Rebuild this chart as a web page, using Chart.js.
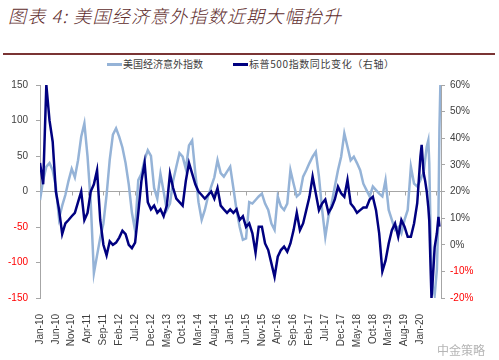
<!DOCTYPE html>
<html>
<head>
<meta charset="utf-8">
<script src="https://cdn.jsdelivr.net/npm/chart.js@4.4.1/dist/chart.umd.min.js"></script>
<style>
  html, body { margin:0; padding:0; background:#fff; }
  #wrap { position:relative; width:499px; height:360px; overflow:hidden; }
  #c { position:absolute; left:0; top:0; }
  .title { position:absolute; left:8px; top:4px; font:italic 300 18px "Noto Sans CJK SC", sans-serif; color:#5e2c2c; line-height:22px; letter-spacing:1.2px; white-space:nowrap; }
  .rule { position:absolute; left:3px; top:53px; width:492px; height:2px; background:#7a3434; }
  .lg { position:absolute; top:58px; font:10px "Noto Sans CJK SC", sans-serif; color:#404040; line-height:12px; white-space:nowrap; }
  .sw { position:absolute; }
  .mark { position:absolute; left:437px; top:341px; font:12px "Noto Sans CJK SC", sans-serif; color:#b5b5b5; }
</style>
</head>
<body>
<div id="wrap">
  <div class="title">图表 4: 美国经济意外指数近期大幅抬升</div>
  <div class="rule"></div>
  <div class="sw" style="left:107px;top:63px;width:15px;height:2.5px;background:#95b3d7;"></div>
  <div class="lg" style="left:123px;">美国经济意外指数</div>
  <div class="sw" style="left:233px;top:62.5px;width:15px;height:3px;background:#000080;"></div>
  <div class="lg" style="left:249px;letter-spacing:0.6px;">标普500指数同比变化（右轴）</div>
  <canvas id="c" width="499" height="360"></canvas>
  <div class="mark">中金策略</div>
</div>
<script>
// x tick labels, one every 5 months from Jan-10
const xLabels = ['Jan-10','Jun-10','Nov-10','Apr-11','Sep-11','Feb-12','Jul-12','Dec-12','May-13','Oct-13','Mar-14',
  'Aug-14','Jan-15','Jun-15','Nov-15','Apr-16','Sep-16','Feb-17','Jul-17','Dec-17','May-18','Oct-18','Mar-19','Aug-19','Jan-20','Jun-20'];

// monthly readings, Jan-10 .. Jan-20 (121 months)
const cesiMonthly = [
  -12, 16, 35, 40, 30, 7, -38, -20, -5, 15, 32, 20,
  44, 77, 96, 49, -15, -115, -90, -65, -45, -5, 45, 80,
  89, 77, 62, 40, 10, -30, -55, 16, 25, 45, 58, 50,
  5, -10, 25, 0, -26, -17, 15, 35, 54, 49, 32, 65,
  72, 26, -15, -40, -26, -7, 7, 20, 44, 26, 21, 28,
  35, 5, -26, -50, -68, -66, -15, -17, -12, -7, -3, -17,
  -26, -45, -54, -7, -21, -26, -17, 30, 11, -7, -3, 21,
  30, 40, 49, 56, 21, -26, -64, -35, -17, 7, 30, 49,
  82, 63, 44, 49, 40, 30, 11, 2, -7, 7, 2, -3,
  -7, 16, -26, -40, -54, -50, -59, -40, -26, 35, 11, 7,
  16
];
const spxMonthly = [
  30.7, 22.7, 60, 46.7, 38.7, 20, 13.3, 4, 8, 9.3, 10.7, 12,
  16, 20, 9.3, 12, 20, 22.7, 28, 9.3, 0, -4, 1.3, 0,
  0.8, 2.7, 5.3, 4, 0, -1.3, 0.8, 12, 24, 30.7, 16, 13.3,
  14.7, 12, 13.3, 10.7, 14.7, 26.7, 21.3, 17.3, 16, 14.7, 24, 30.7,
  26.7, 22.7, 20, 18.7, 17.3, 18.7, 20, 17.3, 21.3, 14.7, 13.3, 12,
  13.3, 12, 13.3, 9.3, 10.7, 6.7, 8, 4.3, -3, 6.8, 6.8, 0.5,
  -2, -7, -12, -4.5, -2, -0.7, -2.6, 0.5, 5.5, 12, 5.5, 8,
  13, 18, 25.6, 19.3, 13, 15.5, 17, 12, 14, 17, 21.8, 19.3,
  18, 24.3, 15.5, 14, 12, 13, 14, 14, 17, 18, 13, 4.3,
  -10, -6, 0.5, 5.5, 8, 3, 9.3, 6.8, 3, 3, 8, 15.6,
  33
];

// 2020 readings at finer spacing (months after Jan-10)
const tailMonths = [120.4, 121, 121.5, 122, 122.5, 122.8, 123.2, 123.5, 123.9, 124.5, 125.2, 125.7, 126, 126.3];
const cesiTail   = [21, 26, 45, 63, 72, 40, -54, -106, -134, -146, -110, -31, 87, 150];
const spxTail    = [37.5, 27, 24, 20, 14, 9, -8, -20, -13, -1, 4.3, 10.5, 6.8, null];

const toPoints = (monthly, tail) =>
  monthly.map((v, i) => ({ x: i, y: v }))
    .concat(tailMonths.map((m, i) => ({ x: m, y: tail[i] })))
    .filter(p => p.y !== null);

const AXIS = '#a6a6a6';
const TXT = '#404040';
const RED = '#ff0000';

// small tick marks on the zero line, like the excel category axis
const zeroTicks = {
  id: 'zeroTicks',
  beforeDatasetsDraw(chart) {
    const { ctx, scales: { x, y } } = chart;
    const y0 = y.getPixelForValue(0);
    ctx.save();
    ctx.strokeStyle = AXIS;
    ctx.lineWidth = 1;
    for (let i = 0; i < xLabels.length; i++) {
      const px = Math.round(x.getPixelForValue(i * 5)) + 0.5;
      ctx.beginPath();
      ctx.moveTo(px, y0);
      ctx.lineTo(px, y0 + 4);
      ctx.stroke();
    }
    ctx.restore();
  }
};

new Chart(document.getElementById('c'), {
  type: 'line',
  data: {
    datasets: [
      {
        label: '标普500指数同比变化（右轴）',
        data: toPoints(spxMonthly, spxTail),
        yAxisID: 'y1',
        borderColor: '#000080',
        borderWidth: 2.5,
        pointRadius: 0,
        tension: 0,
        order: 0
      },
      {
        label: '美国经济意外指数',
        data: toPoints(cesiMonthly, cesiTail),
        yAxisID: 'y',
        borderColor: '#95b3d7',
        borderWidth: 2.5,
        pointRadius: 0,
        tension: 0,
        order: 1
      }
    ]
  },
  options: {
    responsive: false,
    animation: false,
    layout: { padding: { top: 85, left: 0, right: 0, bottom: 0 } },
    plugins: { legend: { display: false }, tooltip: { enabled: false } },
    scales: {
      x: {
        type: 'linear',
        min: 0,
        max: 126.5,
        afterFit: s => { s.height = 62; },
        grid: { display: false },
        border: { display: false },
        ticks: {
          stepSize: 5,
          autoSkip: false,
          maxRotation: 90,
          minRotation: 90,
          padding: 8,
          color: TXT,
          font: { family: 'Liberation Sans', size: 10 },
          callback: v => (v % 5 === 0 && xLabels[v / 5]) ? xLabels[v / 5] : ''
        }
      },
      y: {
        position: 'left',
        min: -150,
        max: 150,
        afterFit: s => { s.width = 40; },
        border: { display: true, color: AXIS, width: 1 },
        grid: {
          drawOnChartArea: true,
          drawTicks: true,
          tickLength: 4,
          tickColor: AXIS,
          color: c => c.tick && c.tick.value === 0 ? AXIS : 'rgba(0,0,0,0)'
        },
        ticks: {
          stepSize: 50,
          padding: 8,
          font: { family: 'Liberation Sans', size: 10 },
          color: c => c.tick.value < 0 ? RED : TXT
        }
      },
      y1: {
        position: 'right',
        min: -20,
        max: 60,
        afterFit: s => { s.width = 58; },
        border: { display: true, color: AXIS, width: 1 },
        grid: { drawOnChartArea: false, drawTicks: true, tickLength: 4, color: AXIS },
        ticks: {
          stepSize: 10,
          padding: 5,
          font: { family: 'Liberation Sans', size: 10 },
          color: c => c.tick.value < 0 ? RED : TXT,
          callback: v => v + '%'
        }
      }
    }
  },
  plugins: [zeroTicks]
});
</script>
</body>
</html>
